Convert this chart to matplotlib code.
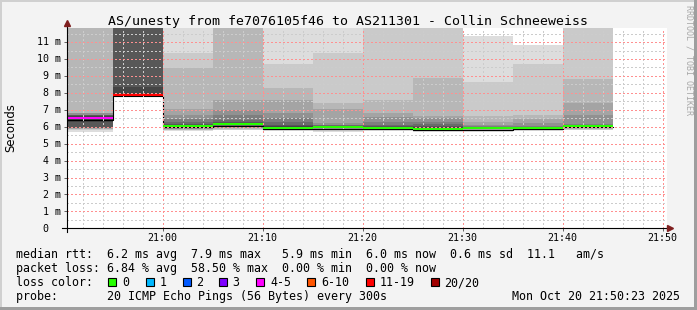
import numpy as np
import matplotlib
matplotlib.use('Agg')
import matplotlib.pyplot as plt
import matplotlib.dates as mdates
from matplotlib import transforms
from matplotlib.patches import Rectangle
from datetime import datetime, timedelta

# --- data (5 minute slots, 20 pings each, values in ms) ---
slot_start = ['20:50', '20:55', '21:00', '21:05', '21:10', '21:15',
              '21:20', '21:25', '21:30', '21:35', '21:40']
median_ms = [6.50, 7.90, 6.05, 6.15, 5.95, 5.98, 5.95, 5.88, 5.92, 5.93, 6.05]
loss_pct = [23.6, 58.5, 0, 0, 0, 0, 0, 0, 0, 0, 0]
inf = np.inf
# sorted ping rtts per slot (inf = lost / off the top of the graph)
ping_ms = [
    [5.68, 5.80, 5.86, 5.88, 5.90, 5.91, 5.92, 5.93, 6.30, 6.45,
     6.55, 6.62, 6.68, 6.70, 6.72, 6.80, 6.82, inf, inf, inf],
    [7.76, 7.77, 7.78, 7.79, 7.80, 7.81, 7.82, 7.84, 7.87, 7.89,
     7.92, 8.34, inf, inf, inf, inf, inf, inf, inf, inf],
    [5.72, 5.78, 5.82, 5.85, 5.88, 5.92, 5.95, 5.98, 6.00, 6.03,
     6.07, 6.10, 6.15, 6.25, 6.45, 6.70, 7.02, 9.49, 10.37, inf],
    [5.78, 5.83, 5.86, 5.90, 5.95, 6.00, 6.04, 6.08, 6.11, 6.13,
     6.18, 6.22, 6.28, 6.42, 6.69, 7.00, 7.57, inf, inf, inf],
    [5.72, 5.78, 5.82, 5.85, 5.87, 5.89, 5.90, 5.92, 5.93, 5.94,
     5.98, 6.02, 6.10, 6.30, 6.50, 6.82, 7.56, 8.27, 9.70, inf],
    [5.68, 5.74, 5.80, 5.84, 5.87, 5.90, 5.92, 5.94, 5.96, 5.97,
     6.00, 6.02, 6.05, 6.08, 6.12, 6.20, 7.02, 7.40, 10.37, inf],
    [5.75, 5.80, 5.84, 5.86, 5.88, 5.90, 5.91, 5.92, 5.93, 5.94,
     5.97, 6.00, 6.05, 6.10, 6.29, 6.56, 6.82, 7.57, inf, inf],
    [5.70, 5.74, 5.78, 5.80, 5.82, 5.83, 5.84, 5.85, 5.86, 5.87,
     5.93, 5.98, 6.05, 6.15, 6.30, 6.50, 6.63, 8.87, inf, inf],
    [5.70, 5.76, 5.80, 5.83, 5.85, 5.87, 5.88, 5.89, 5.90, 5.91,
     5.94, 5.96, 5.98, 6.00, 6.05, 6.12, 6.30, 6.63, 8.64, 11.36],
    [5.72, 5.78, 5.82, 5.84, 5.86, 5.88, 5.89, 5.90, 5.91, 5.92,
     5.94, 5.96, 5.98, 6.00, 6.05, 6.20, 6.44, 6.70, 9.72, 10.85],
    [5.78, 5.83, 5.87, 5.90, 5.93, 5.96, 5.98, 6.00, 6.02, 6.04,
     6.06, 6.08, 6.10, 6.12, 6.17, 6.70, 7.41, 8.84, inf, inf],
]
loss_names = ['0', '1', '2', '3', '4-5', '6-10', '11-19', '20/20']
loss_upper = [0, 1, 2, 3, 5, 10, 19, 20]   # lost pings per bucket
loss_colors = ['#26ff00', '#00b8ff', '#0059ff', '#7e00ff',
               '#ff00ff', '#ff5500', '#ff0000', '#a10000']
y_max = 11.83
graph_end = datetime(2025, 10, 20, 21, 50, 23)

W, H = 697, 310
MONO = 'DejaVu Sans Mono'
fig = plt.figure(figsize=(W / 100, H / 100), dpi=100, facecolor='#f3f3f3')
ax = fig.add_axes([66.5 / W, (H - 228.3) / H, 600 / W, 200.3 / H])
ax.set_facecolor('white')

day = datetime(2025, 10, 20)
starts = [day + timedelta(hours=int(s[:2]), minutes=int(s[3:])) for s in slot_start]
xs = mdates.date2num(starts)
step = 5 / 1440

# smoke: nested bands ping[i]..ping[21-i], darker towards the middle
P = np.minimum(np.array(ping_ms), y_max + 1)
for ibot in range(1, 11):
    lo = P[:, ibot - 1]
    hi = P[:, 20 - ibot]
    g = int(190 / 10 * (10 - ibot)) + 50
    ax.bar(xs, hi - lo, bottom=lo, width=step, align='edge',
           color='#%02x%02x%02x' % (g, g, g), linewidth=0, zorder=1)

# median: thin black step line plus a band coloured by loss
med = np.array(median_ms)
ax.step(list(xs) + [xs[-1] + step], list(med - 0.09) + [med[-1] - 0.09],
        where='post', color='black', lw=0.8, zorder=3)
lost = np.array(loss_pct) / 100 * 20
mcol = [loss_colors[next(i for i, u in enumerate(loss_upper) if l <= u)] for l in lost]
sw = y_max / 200
ax.bar(xs, 2 * sw, bottom=med - sw, width=step, align='edge', color=mcol,
       linewidth=0, zorder=6)

ax.set_xlim(mdates.date2num(graph_end - timedelta(hours=1)), mdates.date2num(graph_end))
ax.set_ylim(0, y_max)

# grid (dotted, drawn over the smoke)
xmaj = [day + timedelta(hours=21, minutes=m) for m in range(0, 60, 10)]
xmin = [day + timedelta(hours=20, minutes=m) for m in range(52, 60, 2)] + \
       [day + timedelta(hours=21, minutes=m) for m in range(0, 52, 2) if m % 10]
grid_kw = dict(lw=1.0, ls=(0, (1, 1.5)), zorder=5, antialiased=False)
for t in xmin:
    ax.axvline(t, color='#cccccc', **grid_kw)
for t in xmaj:
    ax.axvline(t, color='#ff9090', **grid_kw)
for v in np.arange(0.5, y_max, 1.0):
    ax.axhline(v, color='#cccccc', **grid_kw)
for v in range(1, 12):
    ax.axhline(v, color='#ff9090', **grid_kw)

for s in ax.spines.values():
    s.set_visible(False)
ax.set_xticks(mdates.date2num(xmaj))
ax.set_yticks(range(0, 12))
ax.tick_params(labelbottom=False, labelleft=False, length=2.2, width=0.7,
               color='#606060', direction='out')

# axes with arrows
ax.plot([-0.008, 1.004], [0, 0], transform=ax.transAxes, color='black',
        lw=0.8, clip_on=False, zorder=7)
ax.plot([0, 0], [-0.02, 1.01], transform=ax.transAxes, color='black',
        lw=0.8, clip_on=False, zorder=7)
ax.plot([1.0065], [0], transform=ax.transAxes, marker='>', ms=4.5,
        color='#7f1f1f', clip_on=False, zorder=8)
ax.plot([0], [1.024], transform=ax.transAxes, marker='^', ms=4.5,
        color='#7f1f1f', clip_on=False, zorder=8)

# tick labels
px = fig.dpi_scale_trans
ytr = transforms.blended_transform_factory(fig.transFigure, ax.transData) + \
    transforms.ScaledTranslation(0, -3.2 / 100, px)
for v in range(0, 12):
    if v == 0:
        fig.text(48.5 / W, v, '0', transform=ytr, ha='right', va='baseline',
                 fontsize=7.2, family=MONO)
    else:
        fig.text(60.5 / W, v, f'{v} m', transform=ytr, ha='right', va='baseline',
                 fontsize=7.2, family=MONO)
xtr = transforms.blended_transform_factory(ax.transData, fig.transFigure)
for t in xmaj:
    fig.text(mdates.date2num(t), 1 - 240.7 / H, t.strftime('%H:%M'), transform=xtr,
             ha='center', va='baseline', fontsize=7.2, family=MONO)

fig.text(348.5 / W, 1 - 24.5 / H,
         'AS/unesty from fe7076105f46 to AS211301 - Collin Schneeweiss',
         ha='center', va='baseline', fontsize=9.5, family=MONO)
fig.text(11 / W, 1 - 127.5 / H, 'Seconds', rotation=90, ha='center', va='center',
         fontsize=8.4, family='DejaVu Sans')
fig.text(688.5 / W, 1 - 60 / H, 'RRDTOOL / TOBI OETIKER', rotation=270,
         ha='center', va='center', fontsize=6, family=MONO, color='#a8a8a8')

# legend
legend_lines = [
    'median rtt:  6.2 ms avg  7.9 ms max   5.9 ms min  6.0 ms now  0.6 ms sd  11.1   am/s',
    'packet loss: 6.84 % avg  58.50 % max  0.00 % min  0.00 % now',
    'loss color:',
    'probe:       20 ICMP Echo Pings (56 Bytes) every 300s',
]
for i, line in enumerate(legend_lines):
    fig.text(15.5 / W, 1 - (258 + 14 * i) / H, line, ha='left', va='baseline',
             fontsize=8.4, family=MONO)
fig.text(680.5 / W, 1 - 300 / H, 'Mon Oct 20 21:50:23 2025', ha='right',
         va='baseline', fontsize=8.4, family=MONO)

box_x = [108.3, 145.7, 182.7, 219, 256, 307, 365.7, 430.7]
label_x = [122.3, 159.3, 196, 232.6, 270, 321, 379.3, 444.3]
for bx, lx, name, c in zip(box_x, label_x, loss_names, loss_colors):
    fig.add_artist(Rectangle((bx / W, 1 - 286 / H), 8 / W, 8 / H,
                             transform=fig.transFigure, facecolor=c,
                             edgecolor='black', lw=0.8))
    fig.text(lx / W, 1 - 286 / H, name, ha='left', va='baseline',
             fontsize=8.4, family=MONO)

# frame
for (x0, y0, w, h, c) in [(0, 0, 2, H, '#d0d0d0'), (0, H - 2, W, 2, '#d0d0d0'),
                           (W - 3, 0, 3, H, '#9e9e9e'), (0, 0, W, 3, '#9e9e9e')]:
    fig.add_artist(Rectangle((x0 / W, y0 / H), w / W, h / H,
                             transform=fig.transFigure, facecolor=c, lw=0))

fig.savefig('out.png', dpi=100, facecolor=fig.get_facecolor())
